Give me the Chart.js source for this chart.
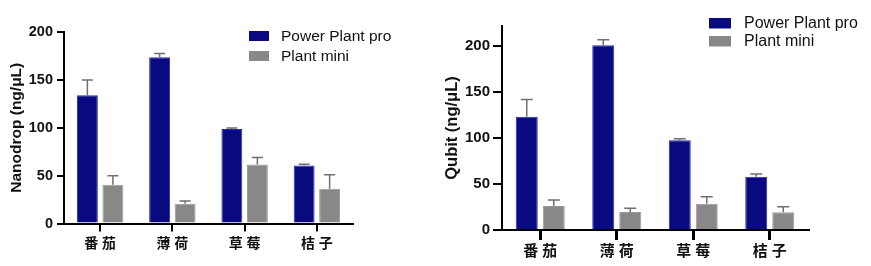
<!DOCTYPE html>
<html>
<head>
<meta charset="utf-8">
<script src="https://cdn.jsdelivr.net/npm/chart.js@4.4.1/dist/chart.umd.min.js"></script>
<style>
  html, body { margin: 0; padding: 0; background: #fff; }
  .wrap { position: absolute; top: 0; height: 266px; }
  #left { left: 0; width: 430px; }
  #right { left: 430px; width: 441px; }
</style>
</head>
<body>
<div class="wrap" id="left"><canvas id="nanoChart" width="430" height="266"></canvas></div>
<div class="wrap" id="right"><canvas id="qubitChart" width="441" height="266"></canvas></div>
<script>
'use strict'
// 데이터
const categories = ['番 茄', '薄 荷', '草 莓', '桔 子'];
const seriesNames = ['Power Plant pro', 'Plant mini'];

const nanoPro = [134, 173.5, 98.8, 60.7];
const nanoProErr = [16, 4, 1, 1.3];
const nanoMini = [40.5, 20.6, 61.5, 36.3];
const nanoMiniErr = [9.5, 2.8, 7.5, 14.7];

const qubitPro = [123.2, 201, 97.8, 58];
const qubitProErr = [18.8, 6, 1.5, 2.9];
const qubitMini = [26, 19.6, 28.6, 19.2];
const qubitMiniErr = [6.6, 4, 7.6, 6.1];

const nanoTicks = [0, 50, 100, 150, 200];
const qubitTicks = [0, 50, 100, 150, 200];

const NAVY = '#0a0a80';
const GRAY = '#888888';
const LATIN = "'Liberation Sans', Arial, 'Noto Sans CJK SC', sans-serif";
const CJK = "'Liberation Sans', 'Noto Sans CJK SC', sans-serif";

// 에러바 그리기 (스케일 기준)
const errorBars = {
  id: 'errorBars',
  afterDatasetsDraw(chart, args, opts) {
    const ctx = chart.ctx;
    const yScale = chart.scales.y;
    chart.data.datasets.forEach((ds, di) => {
      const meta = chart.getDatasetMeta(di);
      meta.data.forEach((bar, i) => {
        const top = yScale.getPixelForValue(ds.data[i] + ds.errors[i]);
        ctx.save();
        ctx.strokeStyle = opts.color;
        ctx.lineWidth = opts.width;
        ctx.beginPath();
        ctx.moveTo(bar.x, bar.y);
        ctx.lineTo(bar.x, top);
        ctx.moveTo(bar.x - opts.cap / 2, top);
        ctx.lineTo(bar.x + opts.cap / 2, top);
        ctx.stroke();
        ctx.restore();
      });
    });
  }
};

// 범례 그리기
const boxLegend = {
  id: 'boxLegend',
  afterDraw(chart, args, opts) {
    const ctx = chart.ctx;
    ctx.save();
    ctx.font = opts.fontSize + 'px ' + LATIN;
    ctx.textBaseline = 'middle';
    chart.data.datasets.forEach((ds, i) => {
      const y = opts.y + i * opts.gap;
      ctx.fillStyle = ds.backgroundColor;
      ctx.fillRect(opts.x, y, opts.boxW, opts.boxH);
      ctx.fillStyle = '#111';
      ctx.fillText(ds.label, opts.x + opts.boxW + opts.textGap, y + opts.boxH / 2 + 0.5);
    });
    ctx.restore();
  }
};

function makeChart(id, proData, proErr, miniData, miniErr, s) {
  return new Chart(document.getElementById(id), {
    type: 'bar',
    data: {
      labels: categories,
      datasets: [
        { label: seriesNames[0], data: proData, errors: proErr, backgroundColor: NAVY,
          borderColor: '#2a2ab8', borderWidth: 1, borderSkipped: 'bottom' },
        { label: seriesNames[1], data: miniData, errors: miniErr, backgroundColor: GRAY,
          borderColor: '#999999', borderWidth: 1, borderSkipped: 'bottom' }
      ]
    },
    options: {
      responsive: false,
      animation: false,
      devicePixelRatio: 1,
      categoryPercentage: s.catPct,
      barPercentage: s.barPct,
      layout: { padding: s.padding },
      plugins: {
        legend: { display: false },
        tooltip: { enabled: false },
        errorBars: { color: '#6f6f6f', width: 1.5, cap: s.cap },
        boxLegend: s.legend
      },
      scales: {
        x: {
          offset: true,
          afterFit: sc => { sc.height = s.xHeight; },
          border: { color: '#000', width: 2 },
          grid: { offset: false, drawOnChartArea: false, drawTicks: true, tickLength: s.xTickLen,
                  color: '#000', lineWidth: s.xTickW },
          ticks: { color: '#111', padding: s.xPad, font: { family: CJK, size: s.xFont, weight: 'bold' } }
        },
        y: {
          min: 0,
          max: s.yMax,
          afterFit: sc => { sc.width = s.yWidth; },
          afterBuildTicks: sc => { sc.ticks = s.ticks.map(v => ({ value: v })); },
          border: { color: '#000', width: 2 },
          grid: { drawOnChartArea: false, drawTicks: true, tickLength: s.yTickLen, color: '#000', lineWidth: 2 },
          ticks: { color: '#111', padding: s.yPad, font: { family: LATIN, size: s.yFont, weight: 'bold' } },
          title: {
            display: true,
            text: s.title,
            color: '#111',
            padding: { top: s.titlePad, bottom: 0 },
            font: { family: LATIN, size: s.titleFont, weight: 'bold', lineHeight: 1.2 }
          }
        }
      }
    },
    plugins: [errorBars, boxLegend]
  });
}

// 왼쪽: Nanodrop
makeChart('nanoChart', nanoPro, nanoProErr, nanoMini, nanoMiniErr, {
  catPct: 0.706, barPct: 0.82, cap: 11,
  padding: { left: 0, top: 32, right: 77, bottom: 0 },
  xHeight: 42.5, yWidth: 64, yMax: 200, ticks: nanoTicks,
  xTickLen: 8, xTickW: 2, xPad: 4, xFont: 14,
  yTickLen: 7, yPad: 4, yFont: 14.5,
  title: 'Nanodrop (ng/μL)', titleFont: 15.5, titlePad: 7.7,
  legend: { x: 249, y: 31, boxW: 20, boxH: 10, gap: 20, textGap: 12, fontSize: 15.5 }
});

// 오른쪽: Qubit
makeChart('qubitChart', qubitPro, qubitProErr, qubitMini, qubitMiniErr, {
  catPct: 0.706, barPct: 0.815, cap: 12,
  padding: { left: 0, top: 26, right: 63, bottom: 0 },
  xHeight: 36, yWidth: 72, yMax: 222, ticks: qubitTicks,
  xTickLen: 10, xTickW: 3, xPad: 3, xFont: 15,
  yTickLen: 9, yPad: 3, yFont: 15,
  title: 'Qubit (ng/μL)', titleFont: 16.5, titlePad: 13,
  legend: { x: 279, y: 18, boxW: 22, boxH: 10.5, gap: 18, textGap: 13, fontSize: 16 }
});
</script>
</body>
</html>
